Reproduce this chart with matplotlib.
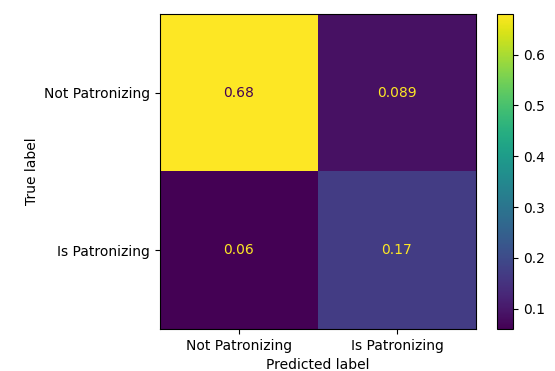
import numpy as np
import matplotlib
matplotlib.use("Agg")
import matplotlib.pyplot as plt

# Normalized confusion matrix for the patronizing-language classifier
class_names = ["Not Patronizing", "Is Patronizing"]
cm = np.array([[0.68, 0.089],
               [0.06, 0.17]])
cell_labels = [["0.68", "0.089"],
               ["0.06", "0.17"]]

fig = plt.figure(figsize=(5.55, 3.71), dpi=100)
ax = fig.add_axes([160 / 555, 1 - 329 / 371, 316 / 555, 315 / 371])
cax = fig.add_axes([497 / 555, 1 - 329 / 371, 16 / 555, 315 / 371])

cmap = plt.get_cmap("viridis")
im = ax.imshow(cm, cmap=cmap, interpolation="nearest", aspect="auto")

# text colour flips depending on cell brightness, like sklearn's display
thresh = (cm.max() + cm.min()) / 2.0
for i in range(cm.shape[0]):
    for j in range(cm.shape[1]):
        color = cmap(0.0) if cm[i, j] >= thresh else cmap(1.0)
        ax.text(j, i, cell_labels[i][j], ha="center", va="center", color=color, fontsize=10)

ax.set_xticks(range(len(class_names)))
ax.set_xticklabels(class_names)
ax.set_yticks(range(len(class_names)))
ax.set_yticklabels(class_names)
ax.set_xlabel("Predicted label")
ax.set_ylabel("True label")

cb = fig.colorbar(im, cax=cax)
cb.set_ticks([0.1, 0.2, 0.3, 0.4, 0.5, 0.6])

fig.savefig("out.png", dpi=100)
